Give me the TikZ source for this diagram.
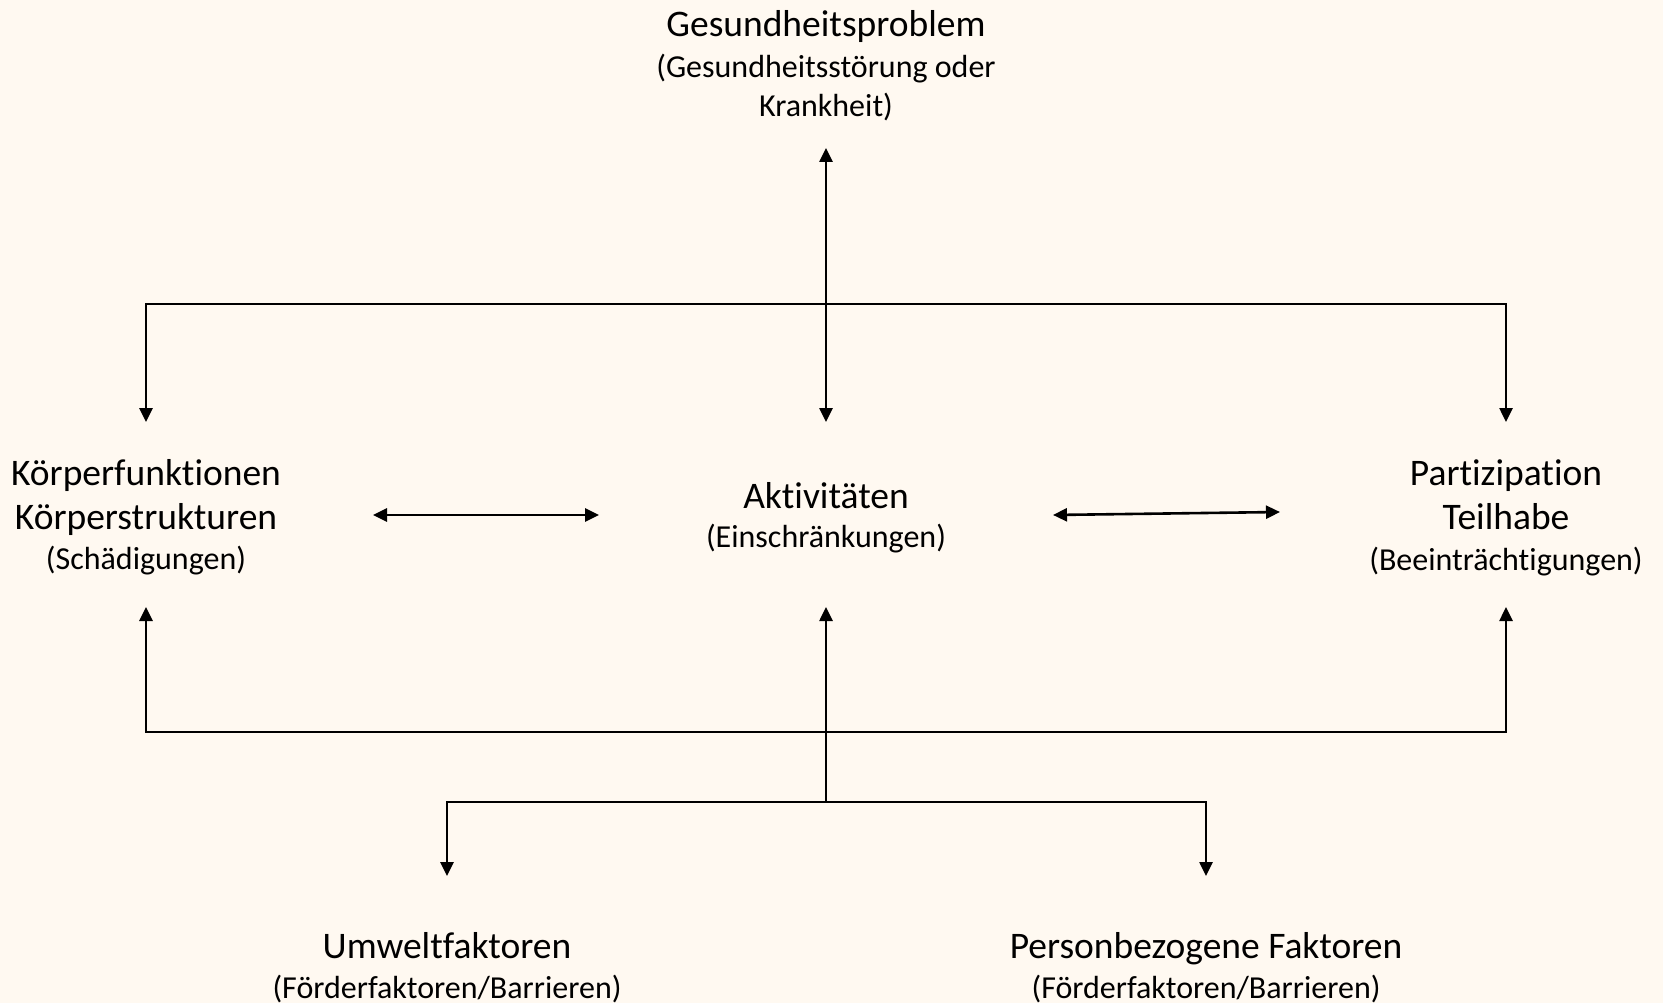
\documentclass[tikz,border=0pt]{standalone}
\usepackage{fontspec}
\setmainfont{Carlito}[Ligatures=NoCommon]
\usetikzlibrary{arrows.meta}
\definecolor{paper}{RGB}{255,249,241}
\newcommand{\subline}{\fontsize{32}{36}\selectfont}

\begin{document}
\begin{tikzpicture}[x=1pt,y=-1pt,
    label/.style={align=center,anchor=north,inner sep=0pt,
      font=\fontsize{37.5}{44}\selectfont},
    link/.style={line width=2.6pt,-{Triangle[length=14pt,width=13pt]}},
    both/.style={line width=2.6pt,{Triangle[length=14pt,width=13pt]}-{Triangle[length=14pt,width=13pt]}}]
      \fill[paper] (0,0) rectangle (1663,1003);
      \useasboundingbox (0,0) rectangle (1663,1003);
      % texts
      \node[label] (gp) at (826,10) {Gesundheitsproblem\\[-3pt]{\subline (Gesundheitsstörung oder}\\[-5pt]{\subline Krankheit)}};
      \node[label] (koerper) at (146,459) {Körperfunktionen\\Körperstrukturen\\[-4pt]{\subline (Schädigungen)}};
      \node[label] (akt) at (826,482) {Aktivitäten\\[-5pt]{\subline (Einschränkungen)}};
      \node[label] (part) at (1506,459) {Partizipation\\Teilhabe\\[-3pt]{\subline (Beeinträchtigungen)}};
      \node[label] (umwelt) at (447,932) {Umweltfaktoren\\[-4pt]{\subline (Förderfaktoren/Barrieren)}};
      \node[label] (person) at (1206,932) {Personbezogene Faktoren\\[-4pt]{\subline (Förderfaktoren/Barrieren)}};
      % arrow ends
      \coordinate (gpIn) at (826,148);
      \coordinate (aktTop) at (826,422);
      \coordinate (aktBot) at (826,607);
      \coordinate (kTop) at (146,422);
      \coordinate (kBot) at (146,607);
      \coordinate (pTop) at (1506,422);
      \coordinate (pBot) at (1506,607);
      \coordinate (kRight) at (373,515);
      \coordinate (aLeft) at (599,515);
      \coordinate (aRight) at (1053,515);
      \coordinate (pLeft) at (1280,512);
      \coordinate (uTop) at (447,876);
      \coordinate (peTop) at (1206,876);
      % bends
      \coordinate (upL) at (146,304);
      \coordinate (upR) at (1506,304);
      \coordinate (lowL) at (146,732);
      \coordinate (lowR) at (1506,732);
      \coordinate (fork) at (826,802);
      \coordinate (forkL) at (447,802);
      \coordinate (forkR) at (1206,802);
      % connectors
      \draw[both] (gpIn) -- (aktTop);
      \draw[both] (kTop) -- (upL) -- (upR) -- (pTop);
      \draw[both] (kRight) -- (aLeft);
      \draw[both] (aRight) -- (pLeft);
      \draw[both] (kBot) -- (lowL) -- (lowR) -- (pBot);
      \draw[link] (fork) -- (aktBot);
      \draw[both] (uTop) -- (forkL) -- (forkR) -- (peTop);
\end{tikzpicture}
\end{document}
